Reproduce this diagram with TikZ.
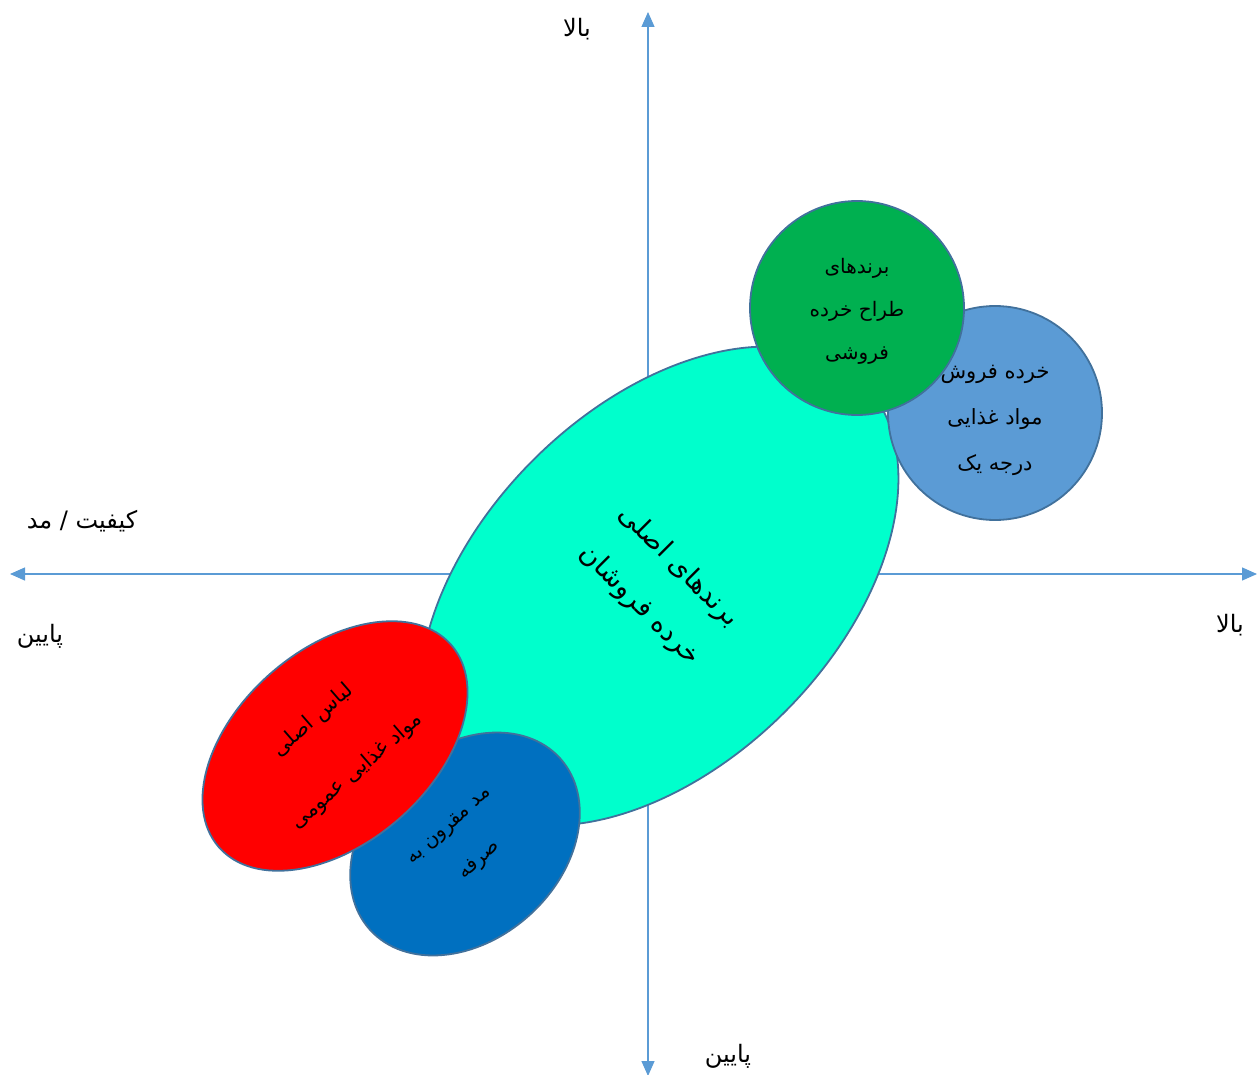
\documentclass[tikz,border=0pt]{standalone}
\usepackage{fontspec}
\newfontfamily\fa[Script=Arabic]{DejaVu Sans}
\TeXXeTstate=1
\usetikzlibrary{arrows.meta,shapes.geometric}
\definecolor{axisblue}{HTML}{5B9BD5}
\definecolor{edgeblue}{HTML}{41719C}
\definecolor{mintfill}{HTML}{00FFCC}
\definecolor{redfill}{HTML}{FF0000}
\definecolor{navyfill}{HTML}{0070C0}
\definecolor{greenfill}{HTML}{00B050}
\definecolor{skyfill}{HTML}{5B9BD5}
\begin{document}
\begin{tikzpicture}[x=1pt,y=-1pt,
  axis/.style={draw=axisblue, line width=1.3pt,
    {Triangle[length=15pt,width=13pt]}-{Triangle[length=15pt,width=13pt]}},
  blob/.style={ellipse, draw=edgeblue, line width=1.8pt, inner sep=0pt, align=center},
  disc/.style={circle, draw=edgeblue, line width=1.8pt, inner sep=0pt, minimum size=214pt},
  disctext/.style={align=center, inner sep=0pt},
  lbl/.style={font=\fa\fontsize{24}{28}\selectfont, inner sep=0pt}]
\useasboundingbox (0,0) rectangle (1257,1075);

% axes
\coordinate (xmin) at (10,574);
\coordinate (xmax) at (1257,574);
\coordinate (ymax) at (648,12);
\coordinate (ymin) at (648,1076);
\draw[axis] (xmin) -- (xmax);
\draw[axis] (ymin) -- (ymax);

% axis labels
\node[lbl] (ytop) at (577,29) {\beginR بالا\endR};
\node[lbl] (xname) at (82,521) {\beginR کیفیت / مد\endR};
\node[lbl] (xlow) at (40,636) {\beginR پایین\endR};
\node[lbl] (xhigh) at (1230,625) {\beginR بالا\endR};
\node[lbl] (ylow) at (728,1056) {\beginR پایین\endR};

% segments
\node[blob, fill=mintfill, rotate=-45, minimum width=356pt, minimum height=576pt,
  font=\fa\fontsize{27}{55}\selectfont] (core) at (659,586)
  {\beginR برندهای اصلی\endR\\\beginR خرده فروشان\endR};
\node[disc, fill=skyfill] (grocery) at (995,413) {};
\node[disctext, font=\fa\fontsize{21}{46}\selectfont] (grocerytext) at (995,420)
  {\beginR خرده فروش\endR\\\beginR مواد غذایی\endR\\\beginR درجه یک\endR};
\node[blob, fill=navyfill, rotate=42, minimum width=256pt, minimum height=192pt,
  font=\fa\fontsize{20}{46}\selectfont] (value) at (465,844)
  {\beginR مد مقرون به\endR\\\beginR صرفه\endR};
\node[blob, fill=redfill, rotate=41, minimum width=308pt, minimum height=194pt,
  font=\fa\fontsize{21}{67}\selectfont] (basic) at (335,746)
  {\beginR لباس اصلی\endR\\\beginR مواد غذایی عمومی\endR};
\node[disc, fill=greenfill] (designer) at (857,308) {};
\node[disctext, font=\fa\fontsize{20}{43}\selectfont] (designertext) at (857,311)
  {\beginR برندهای\endR\\\beginR طراح خرده\endR\\\beginR فروشی\endR};
\end{tikzpicture}
\end{document}
